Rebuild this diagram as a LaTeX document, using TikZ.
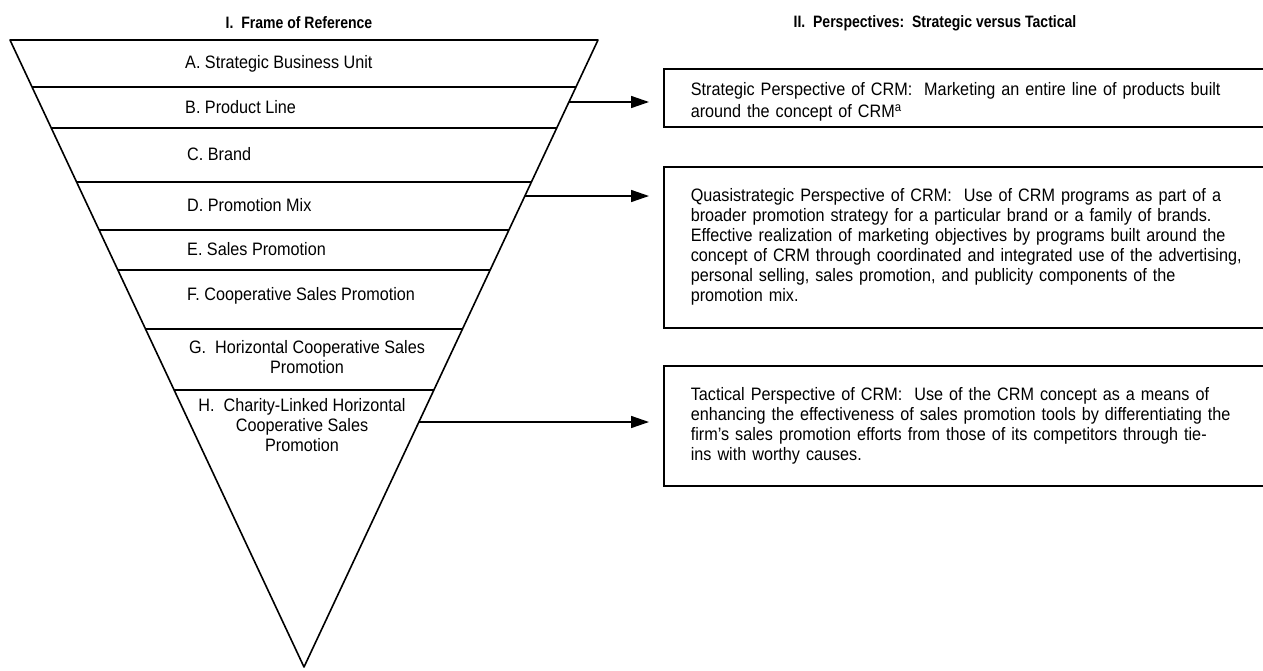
\documentclass[tikz,border=0pt]{standalone}
\usepackage{fontspec}
\setmainfont{Liberation Sans}[FakeStretch=0.9]
\newfontfamily\hdfont{Liberation Sans}[FakeStretch=0.85]
\usetikzlibrary{arrows.meta}
\begin{document}
\begin{tikzpicture}[x=1pt,y=-1pt,
  edge/.style={line width=1.6pt, line join=round},
  lvl/.style={anchor=west, inner sep=0pt, font=\fontsize{18}{20}\selectfont},
  lvlc/.style={align=center, inner sep=0pt, font=\fontsize{18}{20}\selectfont},
  head/.style={inner sep=0pt, font=\hdfont\bfseries\fontsize{16.5}{19}\selectfont},
  pbox/.style={draw, line width=1.6pt, anchor=north west, text width=600pt,
    inner xsep=27pt, inner ysep=0pt, align=left, font=\fontsize{18}{20}\selectfont},
  link/.style={line width=1.5pt, -{Triangle[length=18pt,width=12pt]}, shorten >=14pt}]
\useasboundingbox (0,0) rectangle (1263,670);
\clip (0,0) rectangle (1263,670);

% column headings
\node[head] (h1) at (299,23) {I.\ \ Frame of Reference};
\node[head] (h2) at (935,23) {II.\ \ Perspectives:\ \ Strategic versus Tactical};

% inverted triangle of the frames of reference
\def\sl{0.4689}
\draw[edge] (10,40) -- (598,40) -- (304,667) -- cycle;
\foreach \yy in {87,128,182,230,270,329,390}
  \draw[edge] ({10+\sl*(\yy-40)},\yy) -- ({598-\sl*(\yy-40)},\yy);

\node[lvl] (la) at (185,63.5) {A. Strategic Business Unit};
\node[lvl] (lb) at (185,107) {B. Product Line};
\node[lvl] (lc) at (187,154) {C. Brand};
\node[lvl] (ld) at (187,205.5) {D. Promotion Mix};
\node[lvl] (le) at (187,249) {E. Sales Promotion};
\node[lvl] (lf) at (187,296) {F. Cooperative Sales Promotion};
\node[lvlc] (lg) at (307,357) {G.\ \ Horizontal Cooperative Sales\\Promotion};
\node[lvlc] (lh) at (302,425) {H.\ \ Charity-Linked Horizontal\\Cooperative Sales\\Promotion};

% points on the right side of the triangle where the arrows leave
\coordinate (e1) at ({598-\sl*(102-40)},102);
\coordinate (e2) at ({598-\sl*(196-40)},196);
\coordinate (e3) at ({598-\sl*(422-40)},422);

% perspective boxes (open to the right)
\node[pbox, minimum height=58pt, font=\fontsize{18}{22}\selectfont] (b1) at (663,68)
  {\rule{0pt}{21pt}Strategic Perspective of CRM:\ \ Marketing an entire line of products built\\
   around the concept of CRM\textsuperscript{a}};
\node[pbox, minimum height=161pt] (b2) at (663,166)
  {Quasistrategic Perspective of CRM:\ \ Use of CRM programs as part of a\\
   broader promotion strategy for a particular brand or a family of brands.\\
   Effective realization of marketing objectives by programs built around the\\
   concept of CRM through coordinated and integrated use of the advertising,\\
   personal selling, sales promotion, and publicity components of the\\
   promotion mix.};
\node[pbox, minimum height=120pt] (b3) at (663,365)
  {Tactical Perspective of CRM:\ \ Use of the CRM concept as a means of\\
   enhancing the effectiveness of sales promotion tools by differentiating the\\
   firm’s sales promotion efforts from those of its competitors through tie-\\
   ins with worthy causes.};

% arrows from the triangle to the boxes
\draw[link] (e1) -- (e1 -| b1.west);
\draw[link] (e2) -- (e2 -| b2.west);
\draw[link] (e3) -- (e3 -| b3.west);
\end{tikzpicture}
\end{document}
